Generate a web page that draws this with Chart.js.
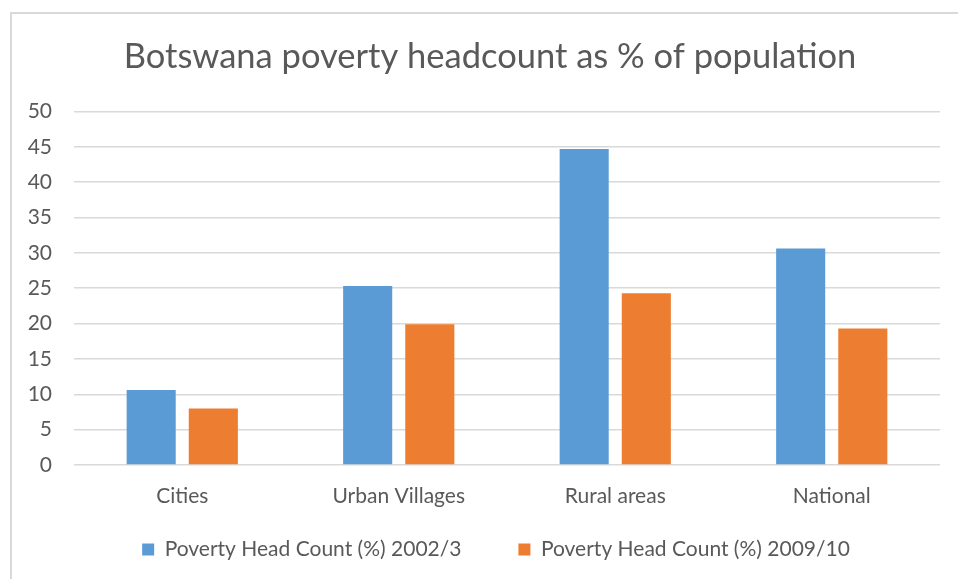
<!DOCTYPE html>
<html>
<head>
<meta charset="utf-8">
<script src="https://cdn.jsdelivr.net/npm/chart.js@4.4.1/dist/chart.umd.min.js"></script>
<style>
html, body { margin: 0; padding: 0; overflow: hidden; background: #fff; width: 958px; height: 579px; }
#frame { position: absolute; left: 10px; top: 12px; width: 960px; height: 600px; border-left: 2px solid #d9d9d9; border-top: 2px solid #d9d9d9; }
#wrap { position: absolute; left: 0; top: 0; width: 960px; height: 565px; }
</style>
</head>
<body>
<div id="frame"><div id="wrap"><canvas id="c"></canvas></div></div>
<script>
const categories = ["Cities", "Urban Villages", "Rural areas", "National"];
const seriesNames = ["Poverty Head Count (%) 2002/3", "Poverty Head Count (%) 2009/10"];
const values2002 = [10.6, 25.3, 44.7, 30.6];
const values2009 = [8.0, 19.9, 24.3, 19.3];
const yTicks = [0, 5, 10, 15, 20, 25, 30, 35, 40, 45, 50];

const FONT = "Lato, 'Open Sans', sans-serif";
const TXT = "#595959";

const tweak = {
  id: 'tweak',
  afterInit(chart) {
    const lg = chart.legend;
    const origFit = lg.fit.bind(lg);
    lg.fit = function () { origFit(); this.height = 87; };
  },
  afterLayout(chart) {
    chart.legend.left += 40;
    chart.titleBlock.left += 28;
    chart.scales.x.bottom += 40;
  }
};

new Chart(document.getElementById('c'), {
  type: 'bar',
  plugins: [tweak],
  data: {
    labels: categories,
    datasets: [
      { label: seriesNames[0], data: values2002, backgroundColor: '#5B9BD5', barPercentage: 0.79, categoryPercentage: 0.574 },
      { label: seriesNames[1], data: values2009, backgroundColor: '#ED7D31', barPercentage: 0.79, categoryPercentage: 0.574 }
    ]
  },
  options: {
    responsive: true,
    maintainAspectRatio: false,
    animation: false,
    layout: { padding: { left: 0, right: 32, top: 22, bottom: 10 } },
    plugins: {
      title: {
        display: true,
        text: 'Botswana poverty headcount as % of population',
        color: TXT,
        font: { family: FONT, size: 34.5, weight: 'normal' },
        padding: { top: 0, bottom: 34 }
      },
      legend: {
        position: 'bottom',
        labels: {
          color: TXT,
          font: { family: FONT, size: 21 },
          boxWidth: 12,
          boxHeight: 12,
          padding: 57
        }
      },
      tooltip: { enabled: false }
    },
    scales: {
      x: {
        grid: { display: false },
        border: { display: false },
        afterFit: (s) => { s.height = 17; },
        ticks: { color: TXT, font: { family: FONT, size: 21 }, padding: 11 }
      },
      y: {
        min: 0, max: 50,
        afterBuildTicks: (s) => { s.ticks = yTicks.map(v => ({ value: v })); },
        afterFit: (s) => { s.width = 62; },
        grid: { color: '#d9d9d9', lineWidth: 1.5, drawTicks: false },
        border: { display: false },
        ticks: { color: TXT, font: { family: FONT, size: 21 }, padding: 22 }
      }
    }
  }
});
</script>
</body>
</html>
